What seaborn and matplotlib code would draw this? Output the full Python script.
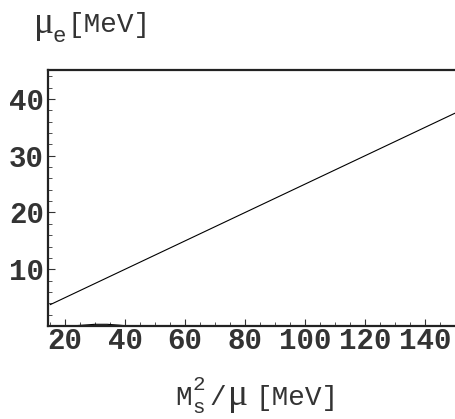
import numpy as np
import pandas as pd
import matplotlib
matplotlib.use("Agg")
import matplotlib.pyplot as plt
from matplotlib.ticker import MultipleLocator
import seaborn as sns

# Data
ms2_over_mu = [15.0, 150.0]          # M_s^2/mu [MeV]
mu_e = [3.75, 37.5]                  # mu_e [MeV]
bump_x = [22, 26, 30, 34, 38, 41]
bump_y = [0.0, 0.15, 0.3, 0.3, 0.15, 0.0]
x_ticks = [20, 40, 60, 80, 100, 120, 140]
y_ticks = [10, 20, 30, 40]

sns.set_style("white")
plt.rcParams["font.family"] = ["Liberation Mono", "DejaVu Sans"]

W, H = 456, 419
fig = plt.figure(figsize=(W / 100, H / 100), dpi=100)
ax = fig.add_axes([48 / W, 1 - 326 / H, 1 - 48 / W, (326 - 70) / H])

df = pd.DataFrame({"x": ms2_over_mu, "y": mu_e})
sns.lineplot(data=df, x="x", y="y", ax=ax, color="black", linewidth=0.8)
dfb = pd.DataFrame({"x": bump_x, "y": bump_y})
sns.lineplot(data=dfb, x="x", y="y", ax=ax, color="black", linewidth=0.8)

ax.set_xlim(14.3, 150.3)
ax.set_ylim(0, 45.1)
ax.set_xticks(x_ticks)
ax.set_yticks(y_ticks)
ax.xaxis.set_minor_locator(MultipleLocator(5))
ax.yaxis.set_minor_locator(MultipleLocator(2))
ax.set_xlabel("")
ax.set_ylabel("")

for s in ["left", "bottom", "top"]:
    ax.spines[s].set_linewidth(1.6)
    ax.spines[s].set_color("#222222")
ax.spines["right"].set_visible(False)

ax.tick_params(axis="both", which="major", direction="in", length=5, width=0.8,
               color="#333333", labelsize=21, labelcolor="#333333")
ax.tick_params(axis="both", which="minor", direction="in", length=3, width=0.6,
               color="#333333")
ax.tick_params(axis="x", which="both", bottom=True, top=False, pad=1)
ax.tick_params(axis="y", which="both", left=True, right=False, pad=3)
for lab in ax.get_xticklabels() + ax.get_yticklabels():
    lab.set_fontweight("bold")

col = "#333333"


def put(x, y, s, size, family="Liberation Mono"):
    fig.text(x / W, 1 - y / H, s, fontsize=size, color=col, ha="left",
             va="baseline", family=family)


# y-axis label: mu_e[MeV]
put(34, 33, "μ", 27, "Liberation Serif")
put(53, 42, "e", 16)
put(68, 32, "[MeV]", 20)

# x-axis label: M_s^2/mu[MeV]
put(175, 405, "M", 20)
put(192, 413, "s", 15)
put(193, 390, "2", 15)
put(209, 405, "/", 20)
put(228, 405, "μ", 27, "Liberation Serif")
put(256, 405, "[MeV]", 20)

fig.savefig("out.png", dpi=100)
